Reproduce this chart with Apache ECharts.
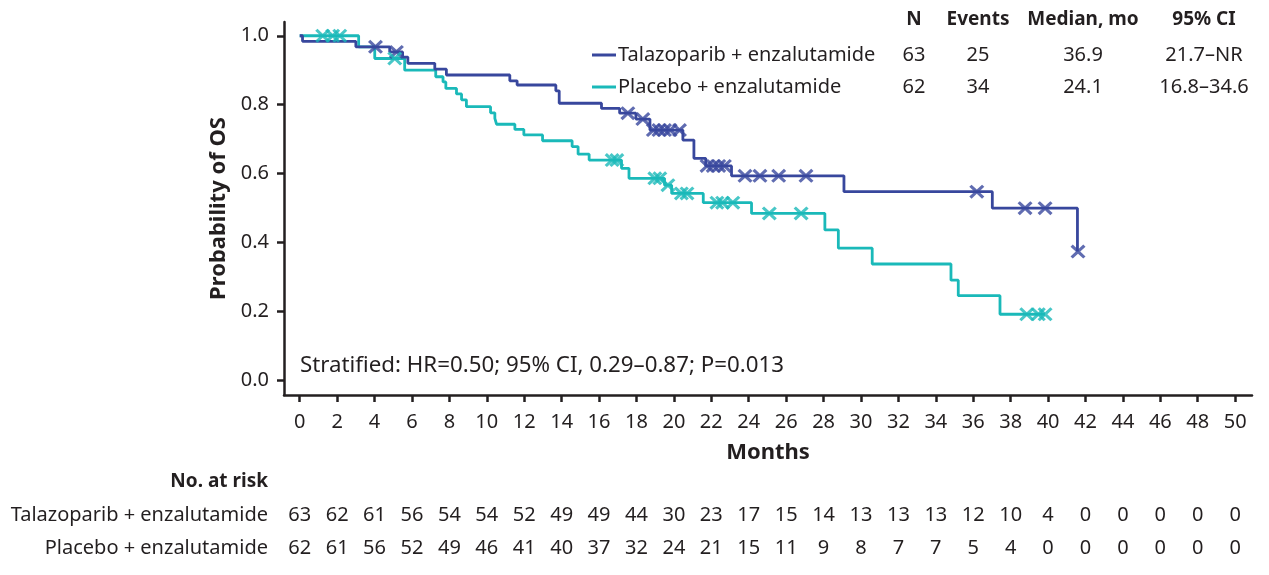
<!DOCTYPE html>
<html><head><meta charset="utf-8">
<script src="https://cdn.jsdelivr.net/npm/echarts@6/dist/echarts.min.js"></script>
<style>html,body{margin:0;padding:0;background:#fff}#c{width:1269px;height:575px}</style>
</head><body><div id="c"></div>
<script>
// ---- data ----
const seriesNames = ['Talazoparib + enzalutamide', 'Placebo + enzalutamide'];
const talaSteps = [[0,1],[0.15,0.984],[3.0,0.968],[4.81,0.953],[5.5,0.938],[5.78,0.920],[7.22,0.903],[7.84,0.886],[11.23,0.869],[11.62,0.857],[13.69,0.840],[13.87,0.804],[16.13,0.789],[17.1,0.775],[17.97,0.758],[18.72,0.726],[20.48,0.697],[21.07,0.644],[21.7,0.622],[23.08,0.593],[29.09,0.547],[37.02,0.499],[41.57,0.499],[41.57,0.373]];
const placSteps = [[0,1],[3.15,0.968],[4.01,0.934],[5.61,0.900],[7.27,0.881],[7.66,0.866],[7.81,0.847],[8.38,0.831],[8.65,0.814],[8.91,0.794],[10.2,0.776],[10.43,0.760],[10.52,0.743],[11.5,0.728],[11.98,0.712],[12.98,0.695],[14.56,0.678],[14.88,0.656],[15.47,0.639],[17.2,0.615],[17.6,0.586],[19.5,0.566],[19.88,0.542],[21.57,0.515],[24.15,0.484],[28.07,0.436],[28.79,0.383],[30.6,0.337],[34.81,0.290],[35.2,0.245],[37.43,0.191],[39.84,0.191]];
const talaCensor = [[4.05,0.968],[5.17,0.953],[17.54,0.775],[18.34,0.758],[18.9,0.726],[19.2,0.726],[19.5,0.726],[19.8,0.726],[20.3,0.726],[21.77,0.622],[22.1,0.622],[22.4,0.622],[22.7,0.622],[23.8,0.593],[24.6,0.593],[25.6,0.593],[27.06,0.593],[36.19,0.547],[38.77,0.499],[39.84,0.499],[41.6,0.373]];
const placCensor = [[1.23,1],[1.76,1],[2.14,1],[5.08,0.934],[16.7,0.639],[16.95,0.639],[18.98,0.586],[19.25,0.586],[19.68,0.566],[20.4,0.542],[20.7,0.542],[22.3,0.515],[22.6,0.515],[23.15,0.515],[25.1,0.484],[26.8,0.484],[38.86,0.191],[39.48,0.191],[39.84,0.191]];
const xTicks = [0,2,4,6,8,10,12,14,16,18,20,22,24,26,28,30,32,34,36,38,40,42,44,46,48,50];
const yTicks = [0,0.2,0.4,0.6,0.8,1.0];
const riskTala = [63,62,61,56,54,54,52,49,49,44,30,23,17,15,14,13,13,13,12,10,4,0,0,0,0,0];
const riskPlac = [62,61,56,52,49,46,41,40,37,32,24,21,15,11,9,8,7,7,5,4,0,0,0,0,0,0];
const tableHeader = ['N','Events','Median, mo','95% CI'];
const tableTala = ['63','25','36.9','21.7–NR'];
const tablePlac = ['62','34','24.1','16.8–34.6'];
const statText = 'Stratified: HR=0.50; 95% CI, 0.29–0.87; P=0.013';

// ---- style ----
const BLUE = '#38479d', TEAL = '#1ab9b9', INK = '#231f20';
const FONT = '"Noto Sans", "Open Sans", sans-serif';
const XSYM = 'path://M0,1.5 L1.5,0 L5,3.5 L8.5,0 L10,1.5 L6.5,5 L10,8.5 L8.5,10 L5,6.5 L1.5,10 L0,8.5 L3.5,5 Z';

const chart = echarts.init(document.getElementById('c'), null, {renderer: 'canvas'});
const option = {
  animation: false,
  backgroundColor: '#fff',
  grid: {left: 284, right: 17, top: 22, bottom: 180, containLabel: false},
  xAxis: {
    type: 'value', min: -0.84, max: 50.9,
    axisLine: {show: true, onZero: false, lineStyle: {color: INK, width: 2.5}},
    axisTick: {show: true, customValues: xTicks, length: 7, lineStyle: {color: INK, width: 2.5}},
    axisLabel: {show: true, customValues: xTicks, color: INK, fontSize: 20, fontFamily: FONT, margin: 17},
    splitLine: {show: false},
    name: 'Months', nameLocation: 'middle', nameGap: 47,
    nameTextStyle: {color: INK, fontSize: 22, fontWeight: 'bold', fontFamily: FONT}
  },
  yAxis: {
    type: 'value', min: -0.0436, max: 1.04,
    axisLine: {show: true, onZero: false, lineStyle: {color: INK, width: 2.5}},
    axisTick: {show: true, customValues: yTicks, length: 7, lineStyle: {color: INK, width: 2.5}},
    axisLabel: {show: true, customValues: yTicks, color: INK, fontSize: 20, fontFamily: FONT, margin: 15,
      formatter: v => v.toFixed(1)},
    splitLine: {show: false},
    name: 'Probability of OS', nameLocation: 'middle', nameGap: 54,
    nameTextStyle: {color: INK, fontSize: 22, fontWeight: 'bold', fontFamily: FONT}
  },
  series: [
    {name: seriesNames[0], type: 'line', step: 'end', data: talaSteps, showSymbol: false, symbol: 'none',
     lineStyle: {color: BLUE, width: 2.8}, z: 3},
    {name: seriesNames[1], type: 'line', step: 'end', data: placSteps, showSymbol: false, symbol: 'none',
     lineStyle: {color: TEAL, width: 2.8}, z: 2},
    {type: 'scatter', data: talaCensor, symbol: XSYM, symbolSize: [15, 14], itemStyle: {color: BLUE}, z: 4},
    {type: 'scatter', data: placCensor, symbol: XSYM, symbolSize: [15, 14], itemStyle: {color: TEAL}, z: 4}
  ]
};
chart.setOption(option);

// ---- text graphics: legend table, statistic, risk table ----
const g = [];
function txt(x, y, s, opts) {
  g.push({type: 'text', x: x, y: y, silent: true, style: Object.assign({
    text: s, fill: INK, font: '20px ' + FONT, textAlign: 'left', textVerticalAlign: 'middle'}, opts || {})});
}
const colX = [914, 978, 1083, 1204];
tableHeader.forEach((h, i) => txt(colX[i], 20, h, {font: 'bold 19px ' + FONT, textAlign: 'center'}));
[[tableTala, BLUE, 55], [tablePlac, TEAL, 87]].forEach(([row, col, y], r) => {
  g.push({type: 'line', silent: true, shape: {x1: 592, y1: y, x2: 616, y2: y}, style: {stroke: col, lineWidth: 3}});
  txt(618, y, seriesNames[r], {});
  row.forEach((v, i) => txt(colX[i], y, v, {textAlign: 'center'}));
});
txt(300, 366, statText, {font: '22.3px ' + FONT});
txt(268, 482, 'No. at risk', {font: 'bold 19px ' + FONT, textAlign: 'right'});
txt(268, 515, seriesNames[0], {textAlign: 'right'});
txt(268, 548, seriesNames[1], {textAlign: 'right'});
xTicks.forEach((t, i) => {
  const px = chart.convertToPixel({gridIndex: 0}, [t, 0])[0];
  txt(px, 515, String(riskTala[i]), {textAlign: 'center'});
  txt(px, 548, String(riskPlac[i]), {textAlign: 'center'});
});
chart.setOption({graphic: {elements: g}});
</script>
</body></html>
